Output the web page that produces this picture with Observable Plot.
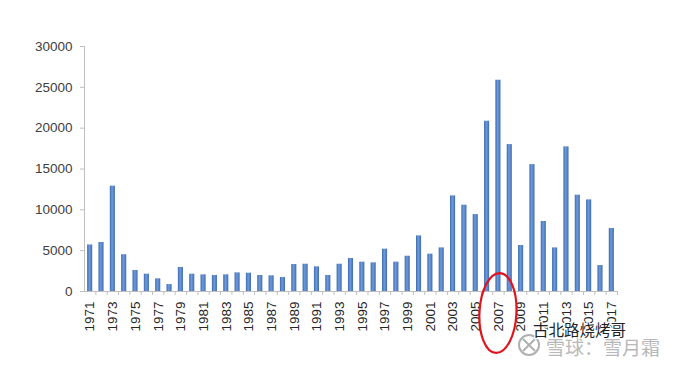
<!DOCTYPE html>
<html>
<head>
<meta charset="utf-8">
<script src="https://cdn.jsdelivr.net/npm/d3@7"></script>
<script src="https://cdn.jsdelivr.net/npm/@observablehq/plot@0.6"></script>
<style>
  html, body { margin: 0; padding: 0; background: #fff; }
  #chart { width: 682px; height: 365px; position: relative; }
</style>
</head>
<body>
<div id="chart"></div>
<script>
const years = [1971,1972,1973,1974,1975,1976,1977,1978,1979,1980,
  1981,1982,1983,1984,1985,1986,1987,1988,1989,1990,
  1991,1992,1993,1994,1995,1996,1997,1998,1999,2000,
  2001,2002,2003,2004,2005,2006,2007,2008,2009,2010,
  2011,2012,2013,2014,2015,2016,2017];
const values = [5700,6000,12900,4500,2570,2120,1550,850,2940,2120,
  2040,1960,2040,2280,2240,1960,1920,1710,3300,3340,
  3020,1960,3340,4040,3590,3510,5180,3590,4320,6810,
  4570,5340,11710,10570,9420,20850,25870,17990,5630,15540,
  8570,5340,17710,11790,11220,3180,7710];
const yTicks = [0,5000,10000,15000,20000,25000,30000];
const xTickLabels = years.filter(y => y % 2 === 1);
const highlightYear = 2007;
const watermark1 = "古北路烧烤哥";
const watermark2 = "雪球：雪月霜";

const data = years.map((y, i) => ({year: y, value: values[i]}));

const plot = Plot.plot({
  width: 682,
  height: 365,
  marginLeft: 84,
  marginRight: 65,
  marginTop: 46,
  marginBottom: 74,
  style: {fontFamily: "'Liberation Sans', Arial, sans-serif", fontSize: "13.5px", color: "#404040", background: "#fff"},
  x: {type: "band", domain: years, paddingInner: 0.55, paddingOuter: 0.275, round: false},
  y: {domain: [0, 30000]},
  marks: [
    Plot.barY(data, {x: "year", y: "value", fill: "url(#barGrad)"}),
    Plot.frame({anchor: "left", stroke: "#bfbfbf"}),
    Plot.ruleY([0], {stroke: "#bfbfbf"}),
    Plot.axisY({ticks: yTicks, tickFormat: d => String(d), tickSize: 4, tickPadding: 8, stroke: "#bfbfbf", label: null, fill: "#404040"}),
    Plot.axisX({ticks: years, tickSize: 4, text: null, dx: 5.67, stroke: "#bfbfbf", label: null}),
    Plot.axisX({ticks: xTickLabels, tickFormat: d => String(d), tickSize: 0, tickPadding: 10, tickRotate: -90, fontSize: 13.5, label: null, fill: "#262626"})
  ]
});

const svg = d3.select(plot);
const defs = svg.insert("defs", ":first-child");
const g = defs.append("linearGradient").attr("id", "barGrad").attr("x1", "0").attr("x2", "1").attr("y1", "0").attr("y2", "0");
g.append("stop").attr("offset", "0%").attr("stop-color", "#3d6aa8");
g.append("stop").attr("offset", "45%").attr("stop-color", "#6e9be0");
g.append("stop").attr("offset", "100%").attr("stop-color", "#3f6cab");

const xs = plot.scale("x");
const cx = xs.apply(highlightYear) + xs.bandwidth / 2;
svg.append("ellipse")
  .attr("cx", cx).attr("cy", 313).attr("rx", 18.5).attr("ry", 40)
  .attr("transform", `rotate(3 ${cx} 313)`)
  .attr("fill", "none").attr("stroke", "#e0141e").attr("stroke-width", 2.2);

// watermark
const wm = svg.append("g").attr("text-anchor", "start").style("font-family", "'Noto Sans CJK SC', sans-serif");
wm.append("circle").attr("cx", 529).attr("cy", 345).attr("r", 10)
  .attr("fill", "none").attr("stroke", "#b0b0b0").attr("stroke-width", 2);
wm.append("path").attr("d", "M523,339 L535,351 M535,339 L523,351")
  .attr("stroke", "#b0b0b0").attr("stroke-width", 2);
wm.append("text").attr("x", 533).attr("y", 336).text(watermark1)
  .attr("font-size", 15.5).attr("fill", "#222").attr("stroke", "#fff").attr("stroke-width", 2.5)
  .attr("paint-order", "stroke");
wm.append("text").attr("x", 546).attr("y", 355).text(watermark2)
  .attr("font-size", 19).attr("fill", "#b8b8b8").attr("stroke", "#fff").attr("stroke-width", 1.5)
  .attr("paint-order", "stroke");

document.getElementById("chart").appendChild(plot);
</script>
</body>
</html>
